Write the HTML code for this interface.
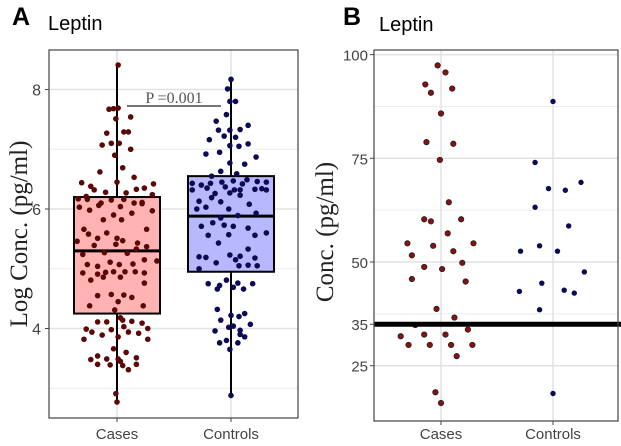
<!DOCTYPE html>
<html><head><meta charset="utf-8">
<style>
html,body{margin:0;padding:0;background:#fff;}
svg{display:block;}
text{font-family:"Liberation Sans",sans-serif;}
.serif{font-family:"Liberation Serif",serif;}
</style></head>
<body>
<svg id="chart" width="621" height="446" viewBox="0 0 621 446" xmlns="http://www.w3.org/2000/svg">
<rect width="621" height="446" fill="#fff"/>
<g id="gA"></g>
<g id="gB"></g>
</svg>
<script>
// ---- Panel A data ----
const categoriesA = ["Cases", "Controls"];
const ticksA = [4, 6, 8];
const minorTicksA = [3, 5, 7];
const boxStatsCases = [2.75, 4.25, 5.3, 6.2, 8.4]; // min,q1,median,q3,max
const boxStatsControls = [2.9, 4.95, 5.88, 6.55, 8.18];
const casesA = [8.41,2.91,2.77,7.67,7.68,7.69,7.54,7.51,7.27,7.29,7.29,7.07,7.10,7.10,7.00,6.90,6.69,6.62,6.53,6.45,6.44,6.38,6.42,6.35,6.32,6.28,6.27,6.33,6.24,6.21,6.17,6.16,6.10,6.15,6.16,6.10,6.11,6.03,6.06,6.04,6.09,5.97,5.98,5.93,5.90,5.82,5.82,5.66,5.66,5.58,5.60,5.51,5.51,5.43,5.46,5.47,5.39,5.41,5.33,5.37,5.24,5.27,5.26,5.15,5.07,5.04,5.11,5.07,5.08,5.13,4.93,4.91,4.94,4.95,4.95,4.95,4.93,4.86,4.81,4.86,4.76,4.55,4.57,4.56,4.52,4.45,4.38,4.38,4.31,4.11,4.11,4.18,4.14,4.12,4.09,3.99,3.94,3.98,4.03,3.94,4.00,3.89,3.92,3.82,3.86,3.82,3.66,3.60,3.48,3.54,3.49,3.49,3.51,3.40,3.39,3.45,3.38,3.31,3.40];
const casesAJitter = [0.01,-0.01,0,-0.07,-0.03,0.01,0.12,-0.01,-0.09,0.06,0.10,-0.13,-0.05,0.02,0.12,-0.02,0.05,-0.15,0.15,0.0,-0.31,-0.23,0.32,0.24,-0.20,-0.10,0.08,0.17,0.31,-0.27,-0.34,-0.26,-0.14,-0.05,0.06,0.15,0.22,-0.33,-0.16,0.03,0.22,0.31,-0.24,0.13,-0.03,-0.12,0.04,0.26,-0.29,-0.25,-0.09,-0.17,0.0,0.18,-0.35,0.05,-0.20,-0.01,0.17,0.26,-0.30,-0.11,0.09,0.24,-0.26,-0.17,-0.06,0.02,0.14,0.35,-0.30,-0.17,-0.10,-0.03,0.07,0.16,0.24,0.03,-0.23,-0.12,0.24,-0.17,-0.05,0.06,0.13,0.01,-0.24,0.23,-0.02,-0.17,-0.09,0.03,0.05,0.13,0.22,-0.27,-0.22,-0.05,0.06,0.10,0.27,-0.13,0.19,-0.29,0.01,0.27,-0.03,0.08,-0.23,-0.17,-0.09,0.01,0.17,-0.17,-0.06,0.03,0.05,0.10,0.17];
const controlsA = [8.17,8.01,7.80,7.80,2.88,7.47,7.58,7.32,7.32,7.33,7.40,7.16,7.22,7.20,7.09,6.92,6.95,7.06,7.05,6.87,6.77,6.75,6.63,6.59,6.55,6.43,6.40,6.43,6.45,6.47,6.42,6.49,6.46,6.45,6.32,6.32,6.35,6.26,6.37,6.32,6.33,6.34,6.13,6.19,6.27,6.32,6.12,6.23,6.00,6.08,6.00,6.03,5.85,5.89,5.93,5.71,5.77,5.73,5.71,5.68,5.56,5.57,5.56,5.60,5.43,5.33,5.19,5.20,5.10,5.23,5.15,5.21,5.18,5.00,5.05,5.06,5.05,4.75,4.72,4.81,4.76,4.75,4.66,4.69,4.66,4.32,4.20,4.22,4.14,4.25,4.04,4.07,3.96,4.02,3.97,3.90,3.76,3.80,3.76,3.86,3.65];
const controlsAJitter = [0,-0.03,-0.01,0.04,0,-0.13,-0.04,-0.11,-0.01,0.08,0.15,-0.19,-0.06,0.04,0.15,-0.22,-0.10,-0.01,0.07,0.22,-0.01,0.12,-0.09,0.05,-0.17,-0.34,-0.26,-0.18,-0.08,0.02,0.10,0.14,0.23,0.31,0.31,-0.34,-0.21,-0.14,-0.05,0.03,0.21,0.27,-0.28,-0.17,-0.01,0.08,-0.09,0.08,-0.02,0.16,-0.30,-0.22,-0.09,0.06,0.22,-0.26,-0.16,-0.06,0.02,0.15,-0.20,-0.02,0.21,0.31,-0.11,0.15,-0.22,-0.28,-0.13,-0.01,0.04,0.08,0.21,-0.28,0.07,0.15,0.23,-0.20,-0.10,-0.04,0.06,0.19,-0.12,0.02,0.11,-0.12,0.07,0,-0.09,0.12,0.02,0.17,-0.14,-0.02,0.08,0.08,-0.10,-0.04,0.06,0.12,-0.01];
const pValueLabel = "P =0.001";

// ---- Panel B data ----
const categoriesB = ["Cases", "Controls"];
const ticksB = [25, 35, 50, 75, 100];
const gridB = [25, 50, 75, 100];
const minorGridB = [37.5, 62.5, 87.5];
const thresholdB = 35;
const casesB = [97.4,95.7,92.8,90.8,91.8,85.8,78.9,78.5,74.6,64.4,60.3,59.8,60.3,56.9,54.5,54.5,53.9,51.6,52.6,49.8,48.8,48.3,45.9,45.3,38.7,36.6,34.8,33.7,32.1,32.5,32.5,30.0,30.0,30.0,30.0,27.3,18.6,16.0];
const casesBJitter = [-0.03,0.04,-0.14,-0.09,0.10,0,-0.13,0.11,-0.01,0.07,-0.15,-0.09,0.18,0.06,-0.30,0.29,-0.07,-0.26,0.11,0.19,-0.15,0.01,-0.26,0.22,-0.04,0.12,-0.23,0.24,-0.36,-0.15,0.04,-0.29,-0.10,0.09,0.28,0.14,-0.05,0];
const controlsB = [88.7,74.0,69.2,67.7,67.3,63.2,58.7,53.9,52.6,52.6,47.6,44.9,42.9,43.2,42.5,38.5,18.3];
const controlsBJitter = [0,-0.16,0.25,-0.04,0.11,-0.16,0.14,-0.12,-0.29,0.04,0.28,-0.10,-0.30,0.10,0.19,-0.12,0];

const NS = "http://www.w3.org/2000/svg";
function mk(parent, tag, attrs, name, text) {
  const el = document.createElementNS(NS, tag);
  for (const k in attrs) el.setAttribute(k, attrs[k]);
  
  
  if (text !== undefined) el.textContent = text;
  parent.appendChild(el);
  return el;
}

// ===== Panel A =====
(function(){
  const g = document.getElementById('gA');
  const L = 49, R = 298, T = 50, B = 418;
  const yA = v => 209 - (v - 6) * 59.75;
  const xA = i => 117 + i * 114;
  const spacing = 114;
  mk(g, 'text', {x: 12, y: 25, 'font-size': 25, 'font-weight': 'bold', fill: '#000'}, 'panel-a-label', 'A');
  mk(g, 'text', {x: 48, y: 30, 'font-size': 20, fill: '#000'}, 'panel-a-title', 'Leptin');
  mk(g, 'rect', {x: L, y: T, width: R - L, height: B - T, fill: '#fff'}, 'plot-area-a');
  minorTicksA.forEach(v => mk(g, 'line', {x1: L, x2: R, y1: yA(v), y2: yA(v), stroke: '#ececec', 'stroke-width': 1}, 'minor-gridline-a'));
  ticksA.forEach(v => mk(g, 'line', {x1: L, x2: R, y1: yA(v), y2: yA(v), stroke: '#e2e2e2', 'stroke-width': 1.5}, 'gridline-a'));
  categoriesA.forEach((c, i) => mk(g, 'line', {x1: xA(i), x2: xA(i), y1: T, y2: B, stroke: '#e2e2e2', 'stroke-width': 1.5}, 'x-gridline-a'));
  const stats = [boxStatsCases, boxStatsControls];
  const fills = ['#ffb3b3', '#b8b8ff'];
  stats.forEach((s, i) => {
    const cx = xA(i);
    mk(g, 'line', {x1: cx, x2: cx, y1: yA(s[0]), y2: yA(s[4]), stroke: '#000', 'stroke-width': 2}, 'whisker-' + categoriesA[i].toLowerCase());
    mk(g, 'rect', {x: cx - 43, y: yA(s[3]), width: 86, height: yA(s[1]) - yA(s[3]), fill: fills[i], stroke: '#000', 'stroke-width': 2}, 'box-' + categoriesA[i].toLowerCase());
    mk(g, 'line', {x1: cx - 43, x2: cx + 43, y1: yA(s[2]), y2: yA(s[2]), stroke: '#000', 'stroke-width': 3}, 'median-' + categoriesA[i].toLowerCase());
  });
  casesA.forEach((v, k) => mk(g, 'circle', {cx: xA(0) + casesAJitter[k] * spacing, cy: yA(v), r: 2.8, fill: '#5c0808'}, 'point-cases'));
  controlsA.forEach((v, k) => mk(g, 'circle', {cx: xA(1) + controlsAJitter[k] * spacing, cy: yA(v), r: 2.8, fill: '#0d0a55'}, 'point-controls'));
  mk(g, 'rect', {x: L, y: T, width: R - L, height: B - T, fill: 'none', stroke: '#444', 'stroke-width': 1.2}, 'plot-border-a');
  mk(g, 'line', {x1: 127, x2: 221, y1: 106, y2: 106, stroke: '#222', 'stroke-width': 1.2}, 'p-value-bracket');
  mk(g, 'text', {x: 174, y: 103, 'font-size': 16, fill: '#555', 'text-anchor': 'middle', class: 'serif'}, 'p-value-label', pValueLabel);
  ticksA.forEach(v => {
    mk(g, 'line', {x1: L - 4, x2: L, y1: yA(v), y2: yA(v), stroke: '#444'}, 'y-tick-a');
    mk(g, 'text', {x: L - 8, y: yA(v) + 6, 'font-size': 16, fill: '#444', 'text-anchor': 'end'}, 'y-tick-label-a', String(v));
  });
  categoriesA.forEach((c, i) => {
    mk(g, 'line', {x1: xA(i), x2: xA(i), y1: B, y2: B + 4, stroke: '#444'}, 'x-tick-a');
    mk(g, 'text', {x: xA(i), y: 439, 'font-size': 15, fill: '#444', 'text-anchor': 'middle'}, 'x-tick-label-a', c);
  });
  mk(g, 'text', {x: 0, y: 0, 'font-size': 25, fill: '#222', 'text-anchor': 'middle', class: 'serif', transform: 'translate(27,234) rotate(-90)'}, 'y-axis-title-a', 'Log Conc. (pg/ml)');
})();

// ===== Panel B =====
(function(){
  const g = document.getElementById('gB');
  const L = 374, R = 618, T = 50, B = 421;
  const yB = v => 262 - (v - 50) * 4.148;
  const xB = i => 441 + i * 112;
  const spacing = 112;
  mk(g, 'text', {x: 343, y: 25, 'font-size': 25, 'font-weight': 'bold', fill: '#000'}, 'panel-b-label', 'B');
  mk(g, 'text', {x: 379, y: 31, 'font-size': 20, fill: '#000'}, 'panel-b-title', 'Leptin');
  mk(g, 'rect', {x: L, y: T, width: R - L, height: B - T, fill: '#fff'}, 'plot-area-b');
  minorGridB.forEach(v => mk(g, 'line', {x1: L, x2: R, y1: yB(v), y2: yB(v), stroke: '#ececec', 'stroke-width': 1}, 'minor-gridline-b'));
  gridB.forEach(v => mk(g, 'line', {x1: L, x2: R, y1: yB(v), y2: yB(v), stroke: '#e2e2e2', 'stroke-width': 1.5}, 'gridline-b'));
  categoriesB.forEach((c, i) => mk(g, 'line', {x1: xB(i), x2: xB(i), y1: T, y2: B, stroke: '#e2e2e2', 'stroke-width': 1.5}, 'x-gridline-b'));
  casesB.forEach((v, k) => mk(g, 'circle', {cx: xB(0) + casesBJitter[k] * spacing, cy: yB(v), r: 2.7, fill: '#8a1010', stroke: '#222', 'stroke-width': 0.8}, 'point-cases-b'));
  controlsB.forEach((v, k) => mk(g, 'circle', {cx: xB(1) + controlsBJitter[k] * spacing, cy: yB(v), r: 2.7, fill: '#0d0a55'}, 'point-controls-b'));
  mk(g, 'line', {x1: L, x2: R + 3, y1: yB(thresholdB), y2: yB(thresholdB), stroke: '#000', 'stroke-width': 5}, 'threshold-line');
  mk(g, 'rect', {x: L, y: T, width: R - L, height: B - T, fill: 'none', stroke: '#444', 'stroke-width': 1.2}, 'plot-border-b');
  ticksB.forEach(v => {
    mk(g, 'line', {x1: L - 4, x2: L, y1: yB(v), y2: yB(v), stroke: '#444'}, 'y-tick-b');
    mk(g, 'text', {x: L - 6, y: yB(v) + 6, 'font-size': 15, fill: '#444', 'text-anchor': 'end'}, 'y-tick-label-b', String(v));
  });
  categoriesB.forEach((c, i) => {
    mk(g, 'line', {x1: xB(i), x2: xB(i), y1: B, y2: B + 4, stroke: '#444'}, 'x-tick-b');
    mk(g, 'text', {x: xB(i), y: 439, 'font-size': 15, fill: '#444', 'text-anchor': 'middle'}, 'x-tick-label-b', c);
  });
  mk(g, 'text', {x: 0, y: 0, 'font-size': 25, fill: '#222', 'text-anchor': 'middle', class: 'serif', transform: 'translate(333,232) rotate(-90)'}, 'y-axis-title-b', 'Conc. (pg/ml)');
})();
</script>
</body></html>
